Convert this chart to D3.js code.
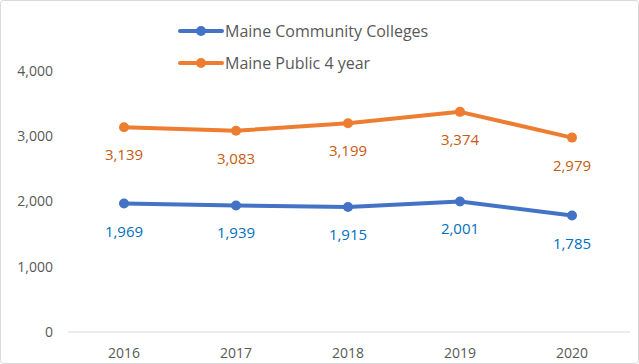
<!DOCTYPE html>
<html>
<head>
<meta charset="utf-8">
<script src="https://cdn.jsdelivr.net/npm/d3@7"></script>
<style>
  html, body { margin: 0; padding: 0; background: #fff; }
  svg { display: block; font-family: "Open Sans", "Noto Sans", sans-serif; }
</style>
</head>
<body>
<div id="chart"></div>
<script>
const years = ['2016', '2017', '2018', '2019', '2020'];
const communityColleges = [1969, 1939, 1915, 2001, 1785];
const publicFourYear = [3139, 3083, 3199, 3374, 2979];
const yTicks = [0, 1000, 2000, 3000, 4000];

const series = [
  { name: 'Maine Community Colleges', values: communityColleges, color: '#4472C4', labelColor: '#0070C0' },
  { name: 'Maine Public 4 year', values: publicFourYear, color: '#ED7D31', labelColor: '#C55A11' }
];

const width = 639;
const height = 364;
const margin = { top: 71, right: 11, bottom: 32, left: 68 };

const svg = d3.select('#chart').append('svg')
  .attr('width', width)
  .attr('height', height);

svg.append('rect')
  .attr('x', 0.5).attr('y', 0.5)
  .attr('width', width - 1).attr('height', height - 1)
  .attr('rx', 3)
  .attr('fill', '#fff')
  .attr('stroke', '#d9d9d9');

const x = d3.scaleBand()
  .domain(years)
  .range([margin.left, width - margin.right]);

const y = d3.scaleLinear()
  .domain([0, 4000])
  .range([height - margin.bottom, margin.top]);

const fmt = d3.format(',');

// y axis labels
svg.append('g')
  .selectAll('text')
  .data(yTicks)
  .join('text')
  .attr('x', 53)
  .attr('y', (d) => y(d))
  .attr('dy', '0.35em')
  .attr('text-anchor', 'end')
  .attr('fill', '#595959')
  .style('font-size', '14px')
  .text((d) => fmt(d));

// baseline
svg.append('line')
  .attr('x1', margin.left)
  .attr('x2', width - margin.right + 2)
  .attr('y1', y(0))
  .attr('y2', y(0))
  .attr('stroke', '#d9d9d9')
  .attr('stroke-width', 1);

// x axis labels
svg.append('g')
  .selectAll('text')
  .data(years)
  .join('text')
  .attr('x', (d) => x(d) + x.bandwidth() / 2)
  .attr('y', y(0) + 26)
  .attr('text-anchor', 'middle')
  .attr('fill', '#595959')
  .style('font-size', '14px')
  .text((d) => d);

const line = d3.line()
  .x((d, i) => x(years[i]) + x.bandwidth() / 2)
  .y((d) => y(d));

series.forEach((s) => {
  const g = svg.append('g');
  g.append('path')
    .datum(s.values)
    .attr('d', line)
    .attr('fill', 'none')
    .attr('stroke', s.color)
    .attr('stroke-width', 4)
    .attr('stroke-linejoin', 'round')
    .attr('stroke-linecap', 'round');

  g.selectAll('circle')
    .data(s.values)
    .join('circle')
    .attr('cx', (d, i) => x(years[i]) + x.bandwidth() / 2)
    .attr('cy', (d) => y(d))
    .attr('r', 5)
    .attr('fill', s.color);

  g.selectAll('text')
    .data(s.values)
    .join('text')
    .attr('x', (d, i) => x(years[i]) + x.bandwidth() / 2)
    .attr('y', (d) => y(d) + 33)
    .attr('text-anchor', 'middle')
    .attr('fill', s.labelColor)
    .style('font-size', '15px')
    .text((d) => fmt(d));
});

// legend
const legend = svg.append('g')
  .selectAll('g')
  .data(series)
  .join('g')
  .attr('transform', (d, i) => `translate(180,${31 + i * 32})`);

legend.append('line')
  .attr('x1', 0).attr('x2', 42)
  .attr('stroke', (d) => d.color)
  .attr('stroke-width', 4)
  .attr('stroke-linecap', 'round');

legend.append('circle')
  .attr('cx', 21)
  .attr('r', 5)
  .attr('fill', (d) => d.color);

legend.append('text')
  .attr('x', 45)
  .attr('dy', '0.35em')
  .attr('fill', '#595959')
  .style('font-size', '16px')
  .text((d) => d.name);
</script>
</body>
</html>
